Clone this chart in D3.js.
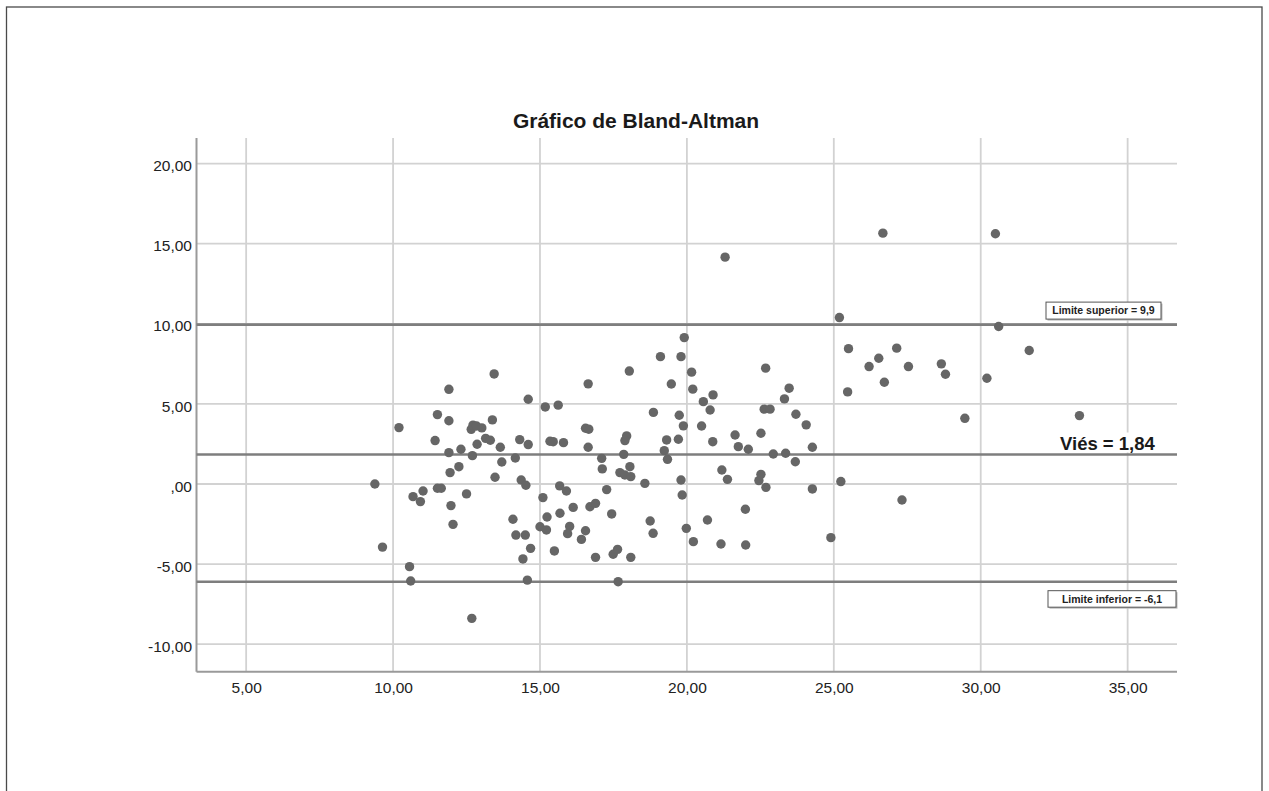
<!DOCTYPE html>
<html>
<head>
<meta charset="utf-8">
<script src="https://cdn.jsdelivr.net/npm/d3@7"></script>
<style>
  html, body { margin: 0; padding: 0; background: #fff; }
  svg { display: block; font-family: "Liberation Sans", Arial, sans-serif; }
</style>
</head>
<body>
<svg id="chart" width="1269" height="791"></svg>
<script>
// ---- Data ----
const titleText = "Gráfico de Bland-Altman";
const xTicks = [5, 10, 15, 20, 25, 30, 35];
const yTicks = [-10, -5, 0, 5, 10, 15, 20];
const formatComma = v => (v === 0 ? ",00" : v.toFixed(2).replace(".", ","));

const meanVals = [
  9.38, 9.64, 10.20, 10.56, 10.60, 10.68, 10.93, 11.02, 11.43, 11.51,
  11.51, 11.64, 11.90, 11.90, 11.90, 11.94, 11.97, 12.04, 12.24, 12.31,
  12.50, 12.66, 12.72, 12.84, 13.02, 12.70, 12.68, 12.86, 13.15, 13.31,
  13.38, 13.44, 13.47, 13.65, 13.70, 14.16, 14.08, 14.18, 14.50, 14.31,
  14.36, 14.52, 14.42, 14.57, 14.60, 14.68, 14.60,
  15.10, 15.18, 15.62, 15.00, 15.22, 15.24, 15.34, 15.45, 15.80, 15.49,
  15.67, 15.68, 15.90, 15.94, 16.01, 16.13, 16.64, 16.55, 16.66, 16.64,
  16.55, 16.41, 16.70, 16.89, 16.89, 17.10, 17.12, 17.27, 17.44, 17.49,
  17.64, 17.66, 17.85, 17.95, 17.89, 18.06, 17.72, 17.89, 18.09, 18.09,
  18.04, 18.57, 18.75, 18.85, 18.86, 19.10, 19.23, 19.34, 19.31, 19.71,
  19.47, 19.74, 19.88, 19.80, 19.91, 19.80, 19.84, 19.98,
  20.16, 20.20, 20.22, 20.56, 20.79, 20.50, 20.89, 20.88, 20.70, 21.19,
  21.38, 21.16, 21.30, 21.64, 21.75, 22.09, 21.99, 22.00, 22.52, 22.52,
  22.45, 22.69, 22.63, 22.83, 22.68, 22.94, 23.36, 23.32, 23.48, 23.69,
  23.71, 24.06, 24.27, 24.27, 24.90,
  25.19, 25.24, 25.50, 25.47, 26.20, 26.53, 26.67, 26.72, 27.14, 27.32,
  27.54, 28.66, 28.80, 29.46, 30.21, 30.50, 30.61, 31.65, 33.36
];
const diffVals = [
  0.00, -3.94, 3.52, -5.16, -6.06, -0.79, -1.10, -0.44, 2.71, 4.33,
  -0.27, -0.27, 5.91, 3.95, 1.96, 0.71, -1.35, -2.52, 1.08, 2.17,
  -0.62, 3.41, 3.67, 3.62, 3.50, 1.77, -8.39, 2.48, 2.85, 2.73,
  4.00, 6.87, 0.42, 2.29, 1.37, 1.62, -2.20, -3.19, -3.19, 2.77,
  0.25, -0.08, -4.68, -6.00, 2.46, -4.02, 5.29,
  -0.85, 4.81, 4.92, -2.67, -2.87, -2.06, 2.67, 2.64, 2.58, -4.18,
  -0.12, -1.83, -0.44, -3.10, -2.65, -1.46, 6.25, 3.48, 3.42, 2.29,
  -2.92, -3.46, -1.42, -1.21, -4.58, 1.60, 0.94, -0.35, -1.87, -4.39,
  -4.08, -6.10, 1.85, 3.00, 2.71, 1.08, 0.71, 0.56, 0.46, -4.58,
  7.05, 0.04, -2.31, -3.08, 4.47, 7.95, 2.08, 1.54, 2.75, 2.79,
  6.24, 4.29, 3.63, 7.95, 9.14, 0.25, -0.69, -2.77,
  6.98, 5.92, -3.60, 5.14, 4.62, 3.62, 5.56, 2.64, -2.25, 0.87,
  0.29, -3.75, 14.16, 3.06, 2.33, 2.17, -1.58, -3.81, 3.17, 0.60,
  0.21, -0.21, 4.67, 4.67, 7.23, 1.87, 1.92, 5.31, 5.98, 1.39,
  4.35, 3.69, 2.29, -0.31, -3.35,
  10.39, 0.15, 8.45, 5.75, 7.33, 7.85, 15.66, 6.35, 8.48, -1.00,
  7.33, 7.50, 6.85, 4.10, 6.60, 15.62, 9.83, 8.33, 4.27
];

const biasValue = 1.84;
const upperLimit = 9.95;
const lowerLimit = -6.1;
const biasLabel = "Viés = 1,84";
const upperLabel = "Limite superior = 9,9";
const lowerLabel = "Limite inferior = -6,1";

// ---- Layout ----
const svg = d3.select("#chart");
const plot = { left: 196.5, right: 1177, top: 138, bottom: 671.7 };

const x = d3.scaleLinear().domain([3.31, 36.68]).range([plot.left, plot.right]);
const y = d3.scaleLinear().domain([-11.72, 21.6]).range([plot.bottom, plot.top]);

// outer frame
svg.append("rect")
  .attr("x", 6.5).attr("y", 7).attr("width", 1255.5).attr("height", 800)
  .attr("fill", "none").attr("stroke", "#4a4a4a").attr("stroke-width", 1.3);

// gridlines
const grid = svg.append("g");
grid.selectAll("line.v").data(xTicks).join("line")
  .attr("x1", d => x(d)).attr("x2", d => x(d))
  .attr("y1", plot.top).attr("y2", plot.bottom)
  .attr("stroke", "#d2d2d2").attr("stroke-width", 1.8);
grid.selectAll("line.h").data(yTicks).join("line")
  .attr("x1", plot.left).attr("x2", plot.right)
  .attr("y1", d => y(d)).attr("y2", d => y(d))
  .attr("stroke", "#d2d2d2").attr("stroke-width", 1.8);

// axes (lines, no ticks)
const xAxis = d3.axisBottom(x).tickValues(xTicks).tickSize(0).tickPadding(0).tickFormat(formatComma);
const yAxis = d3.axisLeft(y).tickValues(yTicks).tickSize(0).tickPadding(4.5).tickFormat(formatComma);

const gx = svg.append("g").attr("transform", `translate(0,${plot.bottom})`).call(xAxis);
gx.select(".domain").remove();
gx.selectAll("text").attr("font-size", 15.5).attr("fill", "#222")
  .attr("font-family", "'Liberation Sans', Arial, sans-serif")
  .attr("y", 21).attr("dy", null);

const gy = svg.append("g").attr("transform", `translate(${plot.left},0)`).call(yAxis);
gy.select(".domain").remove();
gy.selectAll("text").attr("font-size", 15.5).attr("fill", "#222")
  .attr("font-family", "'Liberation Sans', Arial, sans-serif").attr("dy", "0.46em");

svg.append("line").attr("x1", plot.left).attr("x2", plot.left)
  .attr("y1", plot.top).attr("y2", plot.bottom)
  .attr("stroke", "#9a9a9a").attr("stroke-width", 2);
svg.append("line").attr("x1", plot.left).attr("x2", plot.right)
  .attr("y1", plot.bottom).attr("y2", plot.bottom)
  .attr("stroke", "#9a9a9a").attr("stroke-width", 2);

// reference lines
const refs = [upperLimit, biasValue, lowerLimit];
svg.append("g").selectAll("line").data(refs).join("line")
  .attr("x1", plot.left).attr("x2", plot.right)
  .attr("y1", d => y(d)).attr("y2", d => y(d))
  .attr("stroke", "#7e7e7e").attr("stroke-width", 2.6);

// points
const pts = meanVals.map((m, i) => ({ m, d: diffVals[i] }));
svg.append("g").selectAll("circle").data(pts).join("circle")
  .attr("cx", p => x(p.m)).attr("cy", p => y(p.d)).attr("r", 4.7)
  .attr("fill", "#666666");

// title
svg.append("text").attr("x", 636).attr("y", 128)
  .attr("text-anchor", "middle").attr("font-size", 21).attr("font-weight", "bold")
  .attr("fill", "#1a1a1a").text(titleText);

// bias label with white background
svg.append("rect").attr("x", 1058).attr("y", y(biasValue) - 22).attr("width", 113).attr("height", 20)
  .attr("fill", "#fff");
svg.append("text").attr("x", 1060).attr("y", y(biasValue) - 5)
  .attr("font-size", 18.5).attr("font-weight", "bold").attr("fill", "#1a1a1a").text(biasLabel);

// boxed labels
function boxLabel(x0, y0, w, h, txt) {
  svg.append("rect").attr("x", x0 + 1.5).attr("y", y0 + 1.5).attr("width", w).attr("height", h)
    .attr("fill", "#bbb");
  svg.append("rect").attr("x", x0).attr("y", y0).attr("width", w).attr("height", h)
    .attr("fill", "#fff").attr("stroke", "#555").attr("stroke-width", 1);
  svg.append("text").attr("x", x0 + w / 2).attr("y", y0 + h / 2 + 3.8)
    .attr("text-anchor", "middle").attr("font-size", 10.5).attr("font-weight", "bold")
    .attr("fill", "#222").text(txt);
}
boxLabel(1046, y(upperLimit) - 22.5, 115, 17, upperLabel);
boxLabel(1048, y(lowerLimit) + 9, 128, 16.5, lowerLabel);
</script>
</body>
</html>
